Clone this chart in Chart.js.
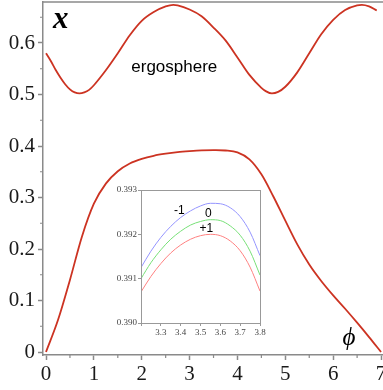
<!DOCTYPE html>
<html><head><meta charset="utf-8">
<script src="https://cdn.jsdelivr.net/npm/chart.js@4/dist/chart.umd.min.js"></script>
<style>
html,body{margin:0;padding:0;background:#fff;}
#wrap{position:relative;width:383px;height:390px;overflow:hidden;background:#fff;}
#main{position:absolute;left:0;top:0;}
#inset{position:absolute;left:100px;top:180px;}
</style></head><body>
<div id="wrap"><canvas id="main" width="383" height="390"></canvas><canvas id="inset" width="170" height="160"></canvas></div>
<script>
// ---- main chart data ----
const phiUpper = [0,0.1,0.2,0.3,0.4,0.5,0.6,0.7,0.8,0.9,1.0,1.25,1.5,1.75,2.0,2.25,2.5,2.66,2.75,3.0,3.25,3.5,3.75,4.0,4.25,4.5,4.6,4.72,4.85,5.0,5.25,5.5,5.75,6.0,6.25,6.5,6.6,6.75,6.91];
const xUpper   = [0.580,0.565,0.548,0.533,0.520,0.510,0.504,0.502,0.504,0.509,0.518,0.547,0.580,0.615,0.643,0.660,0.671,0.674,0.673,0.665,0.652,0.630,0.605,0.572,0.538,0.513,0.506,0.502,0.505,0.515,0.543,0.580,0.617,0.645,0.664,0.673,0.674,0.671,0.663];
const phiLower = [0,0.25,0.5,0.75,1.0,1.25,1.5,1.75,2.0,2.25,2.5,2.75,3.0,3.25,3.5,3.55,3.75,4.0,4.25,4.5,4.75,5.0,5.25,5.5,5.75,6.0,6.25,6.5,6.75,7.0];
const xLower   = [0,0.062,0.140,0.224,0.288,0.327,0.351,0.366,0.375,0.381,0.385,0.388,0.390,0.3915,0.392,0.392,0.3913,0.3875,0.374,0.345,0.302,0.255,0.209,0.170,0.138,0.110,0.084,0.057,0.029,0.0];
const xMajorTicks = [0,1,2,3,4,5,6,7];
const xMinorTicks = [0.5,1.5,2.5,3.5,4.5,5.5,6.5];
const yMajorTicks = [0,0.1,0.2,0.3,0.4,0.5,0.6];
const yMinorTicks = [0.05,0.15,0.25,0.35,0.45,0.55,0.65];
const mainTexts = [
  {text:'x', phi:0.31, x:0.645, font:'italic bold 31px "Liberation Serif"'},
  {text:'ergosphere', phi:2.68, x:0.5535, font:'17px "Liberation Sans"'},
  {text:'\u03D5', phi:6.33, x:0.027, font:'italic 25px "Liberation Serif"'}
];

// ---- inset data ----
const phiInset    = [3.20,3.25,3.30,3.35,3.40,3.45,3.50,3.55,3.60,3.65,3.70,3.75,3.80];
const insetMinus1 = [0.39125,0.39162,0.39193,0.39218,0.39238,0.39253,0.39264,0.39270,0.39269,0.39260,0.39240,0.39205,0.39152];
const inset0      = [0.39100,0.39136,0.39165,0.39189,0.39207,0.39221,0.39229,0.39233,0.39231,0.39219,0.39198,0.39162,0.39108];
const insetPlus1  = [0.39070,0.39105,0.39134,0.39158,0.39176,0.39189,0.39197,0.39200,0.39197,0.39185,0.39163,0.39126,0.39072];
const insetXTicks = [3.2,3.3,3.4,3.5,3.6,3.7,3.8];
const insetYTicks = [0.390,0.391,0.392,0.393];
const insetTexts = [
  {text:'-1', phi:3.393, x:0.39253},
  {text:'0',  phi:3.54,  x:0.39247},
  {text:'+1', phi:3.53,  x:0.39212}
];

const RED = '#cc3322';
const AX = '#8a8a8a';
const pts = (xs, ys) => xs.map((p,i)=>({x:p, y:ys[i]}));

const mainDeco = {
  id:'mainDeco',
  afterDraw(chart){
    const {ctx, chartArea:a, scales:{x, y}} = chart;
    ctx.save();
    ctx.strokeStyle = AX; ctx.lineWidth = 1.5;
    ctx.beginPath(); ctx.moveTo(a.left, a.top); ctx.lineTo(a.right, a.top); ctx.stroke();
    ctx.lineWidth = 1.2;
    ctx.beginPath();
    xMinorTicks.forEach(v=>{ const px = x.getPixelForValue(v); ctx.moveTo(px, a.bottom); ctx.lineTo(px, a.bottom+3); });
    yMinorTicks.forEach(v=>{ const py = y.getPixelForValue(v); ctx.moveTo(a.left, py); ctx.lineTo(a.left-3, py); });
    ctx.stroke();
    ctx.fillStyle = '#000'; ctx.textAlign='center'; ctx.textBaseline='middle';
    mainTexts.forEach(t=>{ ctx.font = t.font; ctx.fillText(t.text, x.getPixelForValue(t.phi), y.getPixelForValue(t.x)); });
    ctx.restore();
  }
};

new Chart(document.getElementById('main'), {
  type:'scatter',
  data:{datasets:[
    {data:pts(phiUpper,xUpper), showLine:true, borderColor:RED, borderWidth:1.8, pointRadius:0, cubicInterpolationMode:'monotone', tension:0.4},
    {data:pts(phiLower,xLower), showLine:true, borderColor:RED, borderWidth:1.8, pointRadius:0, cubicInterpolationMode:'monotone', tension:0.4}
  ]},
  options:{
    responsive:false, animation:false, events:[],
    plugins:{legend:{display:false}, tooltip:{enabled:false}},
    layout:{padding:{top:2,left:0,right:0,bottom:0}},
    scales:{
      x:{type:'linear', min:-0.063, max:7.041,
        afterBuildTicks:s=>{ s.ticks = xMajorTicks.map(v=>({value:v})); },
        afterFit:s=>{ s.height=35; s.paddingLeft=0; s.paddingRight=0; },
        ticks:{autoSkip:false, maxRotation:0, padding:2, color:'#1a1a1a', font:{family:'Liberation Serif', size:21}, callback:v=>String(v)},
        grid:{drawOnChartArea:false, drawTicks:true, tickLength:5, tickColor:AX, tickWidth:1.5},
        border:{display:true, color:AX, width:1.5}},
      y:{type:'linear', min:-0.0058, max:0.6796,
        afterBuildTicks:s=>{ s.ticks = yMajorTicks.map(v=>({value:v})); },
        afterFit:s=>{ s.width=43; s.paddingTop=0; s.paddingBottom=0; },
        ticks:{autoSkip:false, padding:3, color:'#1a1a1a', font:{family:'Liberation Serif', size:21}, callback:v=>v===0?'0':v.toFixed(1)},
        grid:{drawOnChartArea:false, drawTicks:true, tickLength:5, tickColor:AX, tickWidth:1.5},
        border:{display:true, color:AX, width:1.5}}
    }
  },
  plugins:[mainDeco]
});

const insetDeco = {
  id:'insetDeco',
  afterDraw(chart){
    const {ctx, chartArea:a, scales:{x, y}} = chart;
    ctx.save();
    ctx.strokeStyle = '#999'; ctx.lineWidth = 1;
    ctx.strokeRect(Math.round(a.left)+0.5, Math.round(a.top)+0.5, Math.round(a.right-a.left), Math.round(a.bottom-a.top));
    ctx.fillStyle = '#000'; ctx.textAlign='center'; ctx.textBaseline='middle';
    ctx.font = '12px "Liberation Sans"';
    insetTexts.forEach(t=>{ ctx.fillText(t.text, x.getPixelForValue(t.phi), y.getPixelForValue(t.x)); });
    ctx.restore();
  }
};

new Chart(document.getElementById('inset'), {
  type:'scatter',
  data:{datasets:[
    {data:pts(phiInset,insetMinus1), showLine:true, borderColor:'#9494ff', borderWidth:1, pointRadius:0, cubicInterpolationMode:'monotone'},
    {data:pts(phiInset,inset0), showLine:true, borderColor:'#77e077', borderWidth:1, pointRadius:0, cubicInterpolationMode:'monotone'},
    {data:pts(phiInset,insetPlus1), showLine:true, borderColor:'#ff8080', borderWidth:1, pointRadius:0, cubicInterpolationMode:'monotone'}
  ]},
  options:{
    responsive:false, animation:false, events:[],
    plugins:{legend:{display:false}, tooltip:{enabled:false}},
    layout:{padding:{top:10,left:0,right:10,bottom:0}},
    scales:{
      x:{type:'linear', min:3.2, max:3.8,
        afterBuildTicks:s=>{ s.ticks = insetXTicks.map(v=>({value:v})); },
        afterFit:s=>{ s.height=17; s.paddingLeft=0; s.paddingRight=0; },
        ticks:{autoSkip:false, maxRotation:0, padding:1, color:'#444', font:{family:'Liberation Serif', size:9}, callback:(v,i)=>i===0?'':v.toFixed(1)},
        grid:{drawOnChartArea:false, drawTicks:true, tickLength:3, tickColor:'#999', tickWidth:1},
        border:{display:true, color:'#999', width:1}},
      y:{type:'linear', min:0.390, max:0.393,
        afterBuildTicks:s=>{ s.ticks = insetYTicks.map(v=>({value:v})); },
        afterFit:s=>{ s.width=41; s.paddingTop=0; s.paddingBottom=0; },
        ticks:{autoSkip:false, padding:1, color:'#444', font:{family:'Liberation Serif', size:9}, callback:v=>v.toFixed(3)},
        grid:{drawOnChartArea:false, drawTicks:true, tickLength:3, tickColor:'#999', tickWidth:1},
        border:{display:true, color:'#999', width:1}}
    }
  },
  plugins:[insetDeco]
});
</script>
</body></html>
